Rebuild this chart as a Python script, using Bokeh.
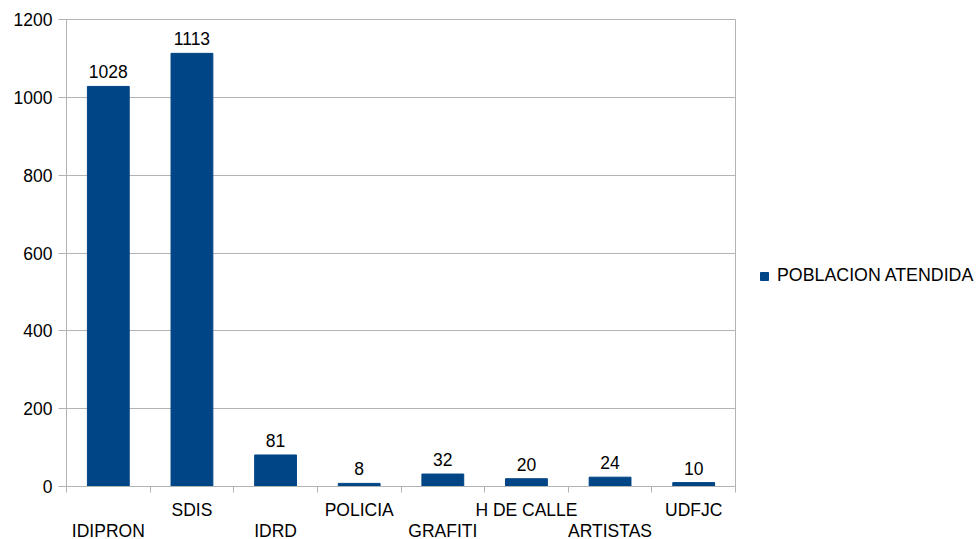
from bokeh.plotting import figure
from bokeh.models import (LinearAxis, FixedTicker, CustomJSTickFormatter, ColumnDataSource,
                          Legend, LegendItem)
from bokeh.core.properties import value
from bokeh.embed import file_html
from bokeh.resources import INLINE

categories = ["IDIPRON", "SDIS", "IDRD", "POLICIA", "GRAFITI", "H DE CALLE", "ARTISTAS", "UDFJC"]
values = [1028, 1113, 81, 8, 32, 20, 24, 10]
series_name = "POBLACION ATENDIDA"
y_ticks = [0, 200, 400, 600, 800, 1000, 1200]

FONT = "Liberation Sans"
FS = "17.5px"
BAR = "#004586"
GRID = "#b3b3b3"

n = len(categories)
xs = [i + 0.5 for i in range(n)]
src = ColumnDataSource(dict(x=xs, top=values, lab=[str(v) for v in values]))

p = figure(frame_width=669, frame_height=467,
           x_range=(0, n), y_range=(0, 1200),
           x_axis_location=None, output_backend="svg", toolbar_location=None,
           min_border_left=66, min_border_top=19, min_border_right=0, min_border_bottom=0)
p.outline_line_color = GRID
p.xgrid.visible = False
p.ygrid.grid_line_color = GRID
p.ygrid.ticker = FixedTicker(ticks=y_ticks)

yax = p.yaxis[0]
yax.ticker = FixedTicker(ticks=y_ticks)
yax.axis_line_color = GRID
yax.major_tick_line_color = GRID
yax.major_tick_out = 8
yax.major_tick_in = 0
yax.minor_tick_line_color = None
yax.major_label_text_font = FONT
yax.major_label_text_font_size = FS
yax.major_label_text_color = "black"
yax.major_label_standoff = 6

r = p.vbar(x="x", top="top", width=0.5, source=src, color=BAR)
p.text(x="x", y="top", text="lab", source=src, text_align="center", text_baseline="bottom",
       y_offset=-8, text_font=value(FONT), text_font_size=value(FS), text_color="black")

fmt = CustomJSTickFormatter(args=dict(labels=categories),
                            code="return labels[Math.floor(tick)];")
ax1 = LinearAxis(ticker=FixedTicker(ticks=[xs[i] for i in range(1, n, 2)],
                                    minor_ticks=list(range(n + 1))),
                 formatter=fmt,
                 axis_line_color=GRID, major_tick_line_color=None, major_tick_out=0,
                 major_tick_in=0, minor_tick_line_color=GRID, minor_tick_out=6,
                 minor_tick_in=0, major_label_standoff=7,
                 major_label_text_font=FONT, major_label_text_font_size=FS,
                 major_label_text_color="black")
ax2 = LinearAxis(ticker=FixedTicker(ticks=[xs[i] for i in range(0, n, 2)]), formatter=fmt,
                 axis_line_color=None, major_tick_line_color=None, major_tick_out=0,
                 major_tick_in=0, minor_tick_line_color=None, major_label_standoff=-2,
                 major_label_text_font=FONT, major_label_text_font_size=FS,
                 major_label_text_color="black")
p.add_layout(ax1, "below")
p.add_layout(ax2, "below")

legend = Legend(items=[LegendItem(label=series_name, renderers=[r])],
                location=(20, 200), border_line_color=None, background_fill_alpha=0,
                label_text_font=FONT, label_text_font_size="17.8px", label_text_color="black",
                glyph_width=10, glyph_height=10, label_standoff=8, margin=0, padding=5)
legend.padding = 5
legend.location = (24, 200)
p.add_layout(legend, "right")

open("out.html", "w").write(file_html(p, INLINE))
